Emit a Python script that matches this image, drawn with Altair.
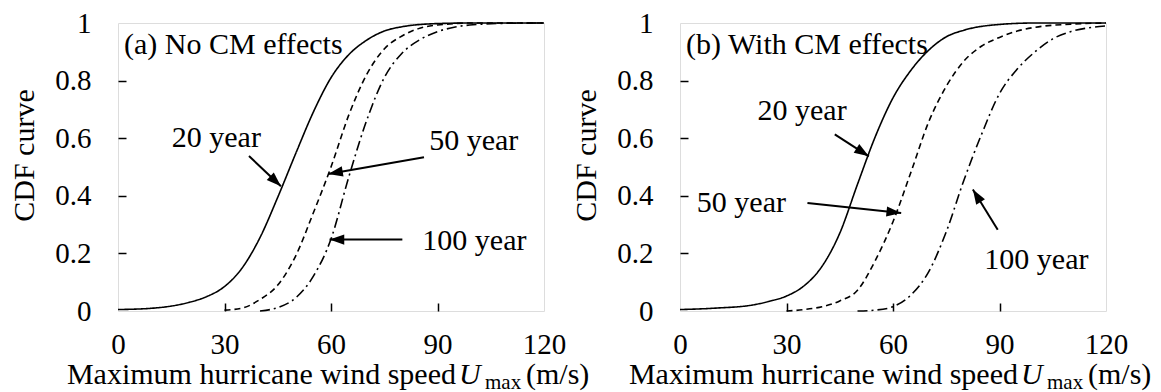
import math
import altair as alt
import pandas as pd

FONT = "'Liberation Serif', 'Times New Roman', serif"
W, H = 426, 288

# ---------------- data ----------------
x_ticks = [0, 30, 60, 90, 120]
y_ticks = [0, 0.2, 0.4, 0.6, 0.8, 1]
x_inner_ticks = [30, 60, 90]
y_inner_ticks = [0.2, 0.4, 0.6, 0.8]

# Panel (a): No CM effects
a_solid_x = [0, 10, 20, 25, 30, 35, 40, 45, 50, 55, 60, 65, 70, 75, 80, 90, 100, 120]
a_solid_y = [0.005, 0.01, 0.03, 0.05, 0.085, 0.15, 0.255, 0.395, 0.545, 0.69, 0.81, 0.89, 0.94, 0.972, 0.987, 0.998, 1.0, 1.0]
a_dash_x = [30, 35, 40, 45, 50, 55, 60, 65, 70, 75, 80, 85, 90, 100, 120]
a_dash_y = [0.003, 0.01, 0.04, 0.09, 0.19, 0.34, 0.50, 0.68, 0.82, 0.91, 0.955, 0.982, 0.993, 1.0, 1.0]
a_dd_x = [40, 45, 50, 55, 60, 65, 70, 75, 80, 85, 90, 95, 100, 110, 120]
a_dd_y = [0.0, 0.012, 0.045, 0.12, 0.25, 0.465, 0.66, 0.81, 0.895, 0.942, 0.97, 0.986, 0.994, 0.999, 1.0]

a_tag = "(a) No CM effects"
a_labels = ["20 year", "50 year", "100 year"]
a_label_x = [27.7, 100.2, 100.4]
a_label_y = [0.60, 0.59, 0.242]
a_arrow_x1 = [36.9, 86.2, 80.1]
a_arrow_y1 = [0.538, 0.534, 0.248]
a_arrow_x2 = [45.9, 59.2, 59.6]
a_arrow_y2 = [0.433, 0.476, 0.248]

# Panel (b): With CM effects
b_solid_x = [0, 10, 20, 25, 30, 35, 40, 45, 50, 55, 60, 65, 70, 75, 80, 90, 100, 120]
b_solid_y = [0.005, 0.01, 0.02, 0.033, 0.052, 0.088, 0.155, 0.27, 0.44, 0.605, 0.74, 0.835, 0.905, 0.952, 0.975, 0.995, 1.0, 1.0]
b_dash_x = [30, 35, 40, 45, 50, 55, 60, 65, 70, 75, 80, 85, 90, 95, 100, 110, 120]
b_dash_y = [0.0, 0.005, 0.015, 0.035, 0.072, 0.175, 0.31, 0.48, 0.655, 0.78, 0.868, 0.92, 0.95, 0.972, 0.985, 0.996, 1.0]
b_dd_x = [50, 55, 60, 65, 70, 75, 80, 85, 90, 95, 100, 105, 110, 115, 120]
b_dd_y = [0.0, 0.003, 0.015, 0.055, 0.135, 0.275, 0.455, 0.615, 0.755, 0.84, 0.90, 0.945, 0.97, 0.983, 0.99]

b_tag = "(b) With CM effects"
b_labels = ["20 year", "50 year", "100 year"]
b_label_x = [34.4, 17.3, 100.4]
b_label_y = [0.694, 0.375, 0.178]
b_arrow_x1 = [43.6, 35.9, 89.5]
b_arrow_y1 = [0.613, 0.375, 0.282]
b_arrow_x2 = [53.2, 62.3, 82.5]
b_arrow_y2 = [0.537, 0.34, 0.422]

title_parts = ["Maximum hurricane wind speed", "U", "max", "(m/s)"]
y_title = "CDF curve"

# ---------------- chart construction ----------------
xs = alt.Scale(domain=[0, 120], nice=False, zero=False)
ys = alt.Scale(domain=[0, 1], nice=False, zero=False)

x_label_axis = alt.Axis(orient="bottom", values=x_ticks, ticks=False, tickSize=0, domain=False,
                        grid=False, labelFont=FONT, labelFontSize=29, labelPadding=19,
                        labelColor="black", labelFlush=False, labelOverlap=False, title=None)
y_label_axis = alt.Axis(orient="left", values=y_ticks, format="~g", ticks=False, tickSize=0,
                        domain=False, grid=False, labelFont=FONT, labelFontSize=29,
                        labelPadding=27, labelColor="black", labelFlush=False, labelOverlap=False,
                        title=y_title, titleFont=FONT, titleFontSize=30, titleFontWeight="normal",
                        titleColor="black", titleAngle=270, titleX=-94, titleY=132,
                        titleAlign="center", titleBaseline="middle")
x_tick_axis = alt.Axis(orient="top", offset=-H, values=x_inner_ticks, labels=False, domain=False,
                       grid=False, ticks=True, tickSize=8, tickColor="black", tickWidth=1.5,
                       title=None)
y_tick_axis = alt.Axis(orient="right", offset=-W, values=y_inner_ticks, labels=False, domain=False,
                       grid=False, ticks=True, tickSize=8, tickColor="black", tickWidth=1.5,
                       title=None)


def line_layer(xv, yv, dash, xaxis, yaxis):
    df = pd.DataFrame({"x": xv, "y": yv})
    return alt.Chart(df).mark_line(color="black", strokeWidth=1.6, strokeDash=dash,
                                   interpolate="monotone").encode(
        x=alt.X("x:Q", scale=xs, axis=xaxis),
        y=alt.Y("y:Q", scale=ys, axis=yaxis),
    )


def panel(sx, sy, dx, dy, ddx, ddy, tag, labels, lx, ly, ax1, ay1, ax2, ay2):
    solid = line_layer(sx, sy, [1, 0], x_label_axis, y_label_axis)
    dashed = line_layer(dx, dy, [6, 4], x_tick_axis, y_tick_axis)
    dashdot = line_layer(ddx, ddy, [10, 4, 2, 4], None, None)

    lab_df = pd.DataFrame({"x": lx, "y": ly, "t": labels})
    texts = alt.Chart(lab_df).mark_text(font=FONT, fontSize=30, align="center",
                                        baseline="middle", color="black").encode(
        x=alt.X("x:Q", scale=xs, axis=None), y=alt.Y("y:Q", scale=ys, axis=None), text="t:N")

    tag_df = pd.DataFrame({"x": [1.7], "y": [0.892], "t": [tag]})
    tagt = alt.Chart(tag_df).mark_text(font=FONT, fontSize=30, align="left",
                                       baseline="alphabetic", color="black").encode(
        x=alt.X("x:Q", scale=xs, axis=None), y=alt.Y("y:Q", scale=ys, axis=None), text="t:N")

    ang = []
    for a, b, c, d in zip(ax1, ay1, ax2, ay2):
        t = math.degrees(math.atan2((c - a) * W / 120.0, (d - b) * H))
        ang.append(t % 360)
    arr_df = pd.DataFrame({"x": ax1, "y": ay1, "x2": ax2, "y2": ay2, "ang": ang})
    shafts = alt.Chart(arr_df).mark_rule(color="black", strokeWidth=2).encode(
        x=alt.X("x:Q", scale=xs, axis=None), y=alt.Y("y:Q", scale=ys, axis=None),
        x2="x2:Q", y2="y2:Q")
    heads = alt.Chart(arr_df).mark_point(shape="M0,0L-0.42,1.2L0.42,1.2Z", filled=True,
                                         size=600, color="black", opacity=1,
                                         strokeWidth=0).encode(
        x=alt.X("x2:Q", scale=xs, axis=None), y=alt.Y("y2:Q", scale=ys, axis=None),
        angle=alt.Angle("ang:Q", scale=None))

    tdf = pd.DataFrame({"t": [0]})
    main_t = alt.Chart(tdf).mark_text(font=FONT, fontSize=30, align="right",
                                      baseline="alphabetic", color="black",
                                      text=title_parts[0]).encode(
        x=alt.value(338), y=alt.value(361))
    u_t = alt.Chart(tdf).mark_text(font=FONT, fontSize=30, align="left", fontStyle="italic",
                                   baseline="alphabetic", color="black",
                                   text=title_parts[1]).encode(
        x=alt.value(341), y=alt.value(361))
    max_t = alt.Chart(tdf).mark_text(font=FONT, fontSize=21, align="left",
                                     baseline="alphabetic", color="black",
                                     text=title_parts[2]).encode(
        x=alt.value(367), y=alt.value(366))
    unit_t = alt.Chart(tdf).mark_text(font=FONT, fontSize=30, align="left",
                                      baseline="alphabetic", color="black",
                                      text=title_parts[3]).encode(
        x=alt.value(408), y=alt.value(361))

    return alt.layer(solid, dashed, dashdot, shafts, heads, texts, tagt,
                     main_t, u_t, max_t, unit_t).resolve_axis(
        x="independent", y="independent").properties(width=W, height=H)


left = panel(a_solid_x, a_solid_y, a_dash_x, a_dash_y, a_dd_x, a_dd_y, a_tag,
             a_labels, a_label_x, a_label_y, a_arrow_x1, a_arrow_y1, a_arrow_x2, a_arrow_y2)
right = panel(b_solid_x, b_solid_y, b_dash_x, b_dash_y, b_dd_x, b_dd_y, b_tag,
              b_labels, b_label_x, b_label_y, b_arrow_x1, b_arrow_y1, b_arrow_x2, b_arrow_y2)

chart = alt.hconcat(left, right, spacing=136, bounds="flush").properties(
    padding={"left": 8, "top": 8, "right": 5, "bottom": 0},
    background="white",
).configure_view(stroke="black", strokeWidth=1.5).configure(font=FONT)

chart.save("out.html", embed_options={"renderer": "svg", "actions": False})
